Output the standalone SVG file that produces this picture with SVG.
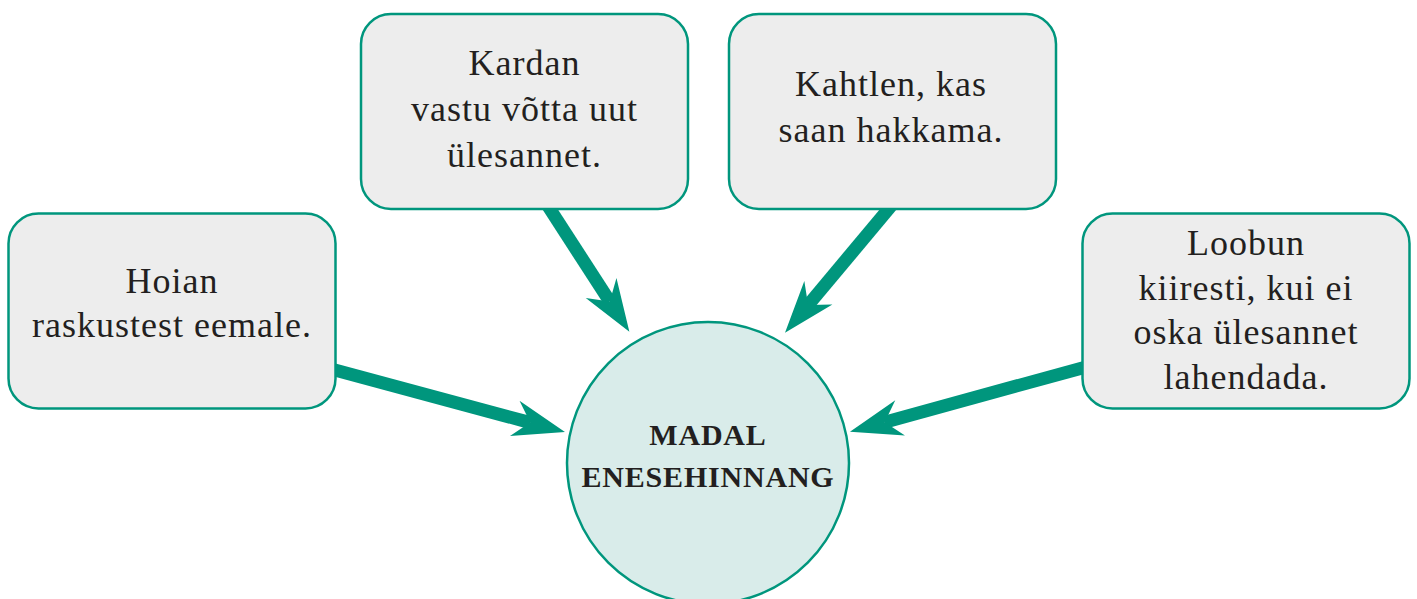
<svg xmlns="http://www.w3.org/2000/svg" width="1417" height="599" viewBox="0 0 1417 599">
<style>
.box{fill:#EDEDED;stroke:#00967D;stroke-width:2.5}
.hub{fill:#D9ECEA;stroke:#00967D;stroke-width:2.5}
.t{font-family:"Liberation Serif","Times New Roman",serif;font-size:36px;letter-spacing:1px;fill:#231F20;text-anchor:middle}
.h{font-family:"Liberation Serif","Times New Roman",serif;font-size:30px;font-weight:bold;letter-spacing:0.8px;fill:#231F20;text-anchor:middle}
.c{stroke:#00967D;stroke-width:13;fill:none;marker-end:url(#ah)}
</style>
<defs>
<marker id="ah" markerUnits="userSpaceOnUse" orient="auto" refX="0" refY="0" markerWidth="60" markerHeight="40" overflow="visible">
<path d="M36,0 L-16,-18.3 L0,0 L-16,18.3 Z" fill="#00967D"/>
</marker>
</defs>
<g id="connectors">
<line class="c" x1="330.2" y1="368.7" x2="530.2" y2="422.6"/>
<line class="c" x1="546.2" y1="203.3" x2="609.8" y2="301.5"/>
<line class="c" x1="892.8" y1="203.9" x2="808.1" y2="305.1"/>
<line class="c" x1="1087.8" y1="366.4" x2="884.7" y2="422.2"/>
</g>
<g id="hub">
<circle class="hub" cx="708" cy="463" r="141"/>
<text class="h" x="708" y="445">MADAL</text>
<text class="h" x="708" y="487">ENESEHINNANG</text>
</g>
<g id="n-hoian">
<rect class="box" x="8.5" y="213.5" width="327" height="195" rx="30"/>
<text class="t" x="172" y="293">Hoian</text>
<text class="t" x="172" y="337">raskustest eemale.</text>
</g>
<g id="n-kardan">
<rect class="box" x="361" y="14" width="327" height="195" rx="30"/>
<text class="t" x="524.5" y="75">Kardan</text>
<text class="t" x="524.5" y="121">vastu võtta uut</text>
<text class="t" x="524.5" y="166.5">ülesannet.</text>
</g>
<g id="n-kahtlen">
<rect class="box" x="729" y="14" width="327" height="195" rx="30"/>
<text class="t" x="891" y="96">Kahtlen, kas</text>
<text class="t" x="891" y="141.5">saan hakkama.</text>
</g>
<g id="n-loobun">
<rect class="box" x="1082.5" y="213.5" width="327" height="195" rx="30"/>
<text class="t" x="1246" y="255">Loobun</text>
<text class="t" x="1246" y="299.5">kiiresti, kui ei</text>
<text class="t" x="1246" y="344">oska ülesannet</text>
<text class="t" x="1246" y="389">lahendada.</text>
</g>
</svg>
